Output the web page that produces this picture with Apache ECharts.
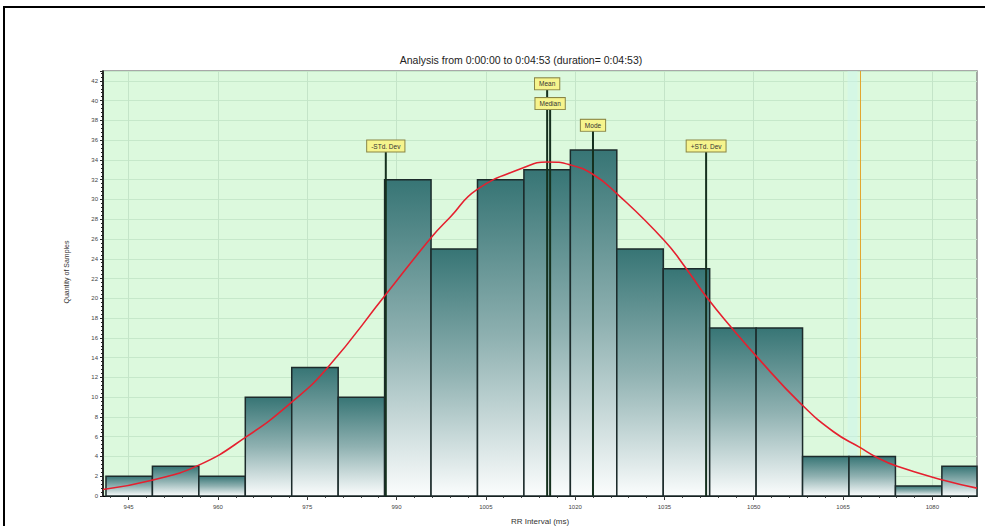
<!DOCTYPE html>
<html>
<head>
<meta charset="utf-8">
<script src="https://cdn.jsdelivr.net/npm/echarts@6/dist/echarts.min.js"></script>
<style>
html, body { margin: 0; padding: 0; background: #fff; }
#main { width: 985px; height: 526px; }
</style>
</head>
<body>
<div id="main"></div>
<script>
// histogram of RR intervals
var binStart = 941.2;   // ms, lower edge of first bin
var binWidth = 7.8;     // ms
var binCounts = [2, 3, 2, 10, 13, 10, 32, 25, 32, 33, 35, 25, 23, 17, 17, 4, 4, 1, 3];

// fitted curve
var curveX = [940.7, 948.9, 956.7, 964.8, 972.4, 978.3, 988.1, 995.9, 999.0, 1003.5, 1011.3, 1015.3,
              1019.2, 1023.1, 1027.0, 1034.9, 1038.8, 1042.1, 1046.6, 1050.5, 1057.8, 1063.4, 1067.9,
              1070.7, 1074.1, 1081.9, 1087.5];
var curveY = [0.65, 1.6, 3.1, 6.0, 9.5, 12.9, 20.3, 26.2, 28.2, 31.0, 33.2, 33.8,
              33.5, 32.5, 30.6, 25.9, 22.9, 20.1, 16.8, 14.1, 9.4, 6.5, 4.9,
              3.9, 3.0, 1.6, 0.8];

// statistic markers
var markerNames = ['-STd. Dev', 'Mean', 'Median', 'Mode', '+STd. Dev'];
var markerValues = [988.2, 1015.3, 1015.8, 1023.0, 1042.0];
var markerTops = [35.4, 41.7, 39.7, 37.5, 35.4];
var cursorValue = 1067.8;

// axis ticks
var xMin = 940.7, xMax = 1087.5;
var xTicks = [945, 960, 975, 990, 1005, 1020, 1035, 1050, 1065, 1080];
var yMax = 43;

var xMinorTicks = [];
for (var t = 942; t < xMax; t += 3) xMinorTicks.push(t);

var barData = [];
for (var i = 0; i < binCounts.length; i++) {
    barData.push([binStart + i * binWidth, binStart + (i + 1) * binWidth, binCounts[i]]);
}
var curveData = [];
for (var j = 0; j < curveX.length; j++) curveData.push([curveX[j], curveY[j]]);
var markerData = [];
for (var k = 0; k < markerValues.length; k++) markerData.push([markerValues[k], markerTops[k]]);

var font = 'Liberation Sans, Arial, sans-serif';
var myChart = echarts.init(document.getElementById('main'), null, { renderer: 'svg' });

var option = {
    backgroundColor: '#ffffff',
    animation: false,
    textStyle: { fontFamily: font },
    grid: {
        left: 103, right: 8, top: 71, bottom: 30,
        outerBoundsMode: 'none',
        containLabel: false,
        show: true,
        backgroundColor: '#dcf9dd',
        borderColor: '#8c8c8c',
        borderWidth: 1.5
    },
    graphic: [
        { type: 'line', shape: { x1: 3, y1: 7, x2: 985, y2: 7 }, style: { stroke: '#000', lineWidth: 2 } },
        { type: 'line', shape: { x1: 4, y1: 6, x2: 4, y2: 526 }, style: { stroke: '#000', lineWidth: 2 } },
        {
            type: 'text', x: 521, y: 60,
            style: { text: 'Analysis from 0:00:00 to 0:04:53 (duration= 0:04:53)', font: '10.5px ' + font,
                     fill: '#222', align: 'center', verticalAlign: 'middle' }
        },
        {
            type: 'text', x: 66, y: 272, rotation: Math.PI / 2,
            style: { text: 'Quantity of Samples', font: '7px ' + font, fill: '#333',
                     align: 'center', verticalAlign: 'middle' }
        }
    ],
    xAxis: [
        {
            type: 'value',
            min: xMin,
            max: xMax,
            name: 'RR Interval (ms)',
            nameLocation: 'middle',
            nameGap: 21,
            nameTextStyle: { fontSize: 8, color: '#333' },
            axisLine: { show: true, lineStyle: { color: '#000', width: 1 } },
            axisTick: { show: true, length: 4, customValues: xTicks, lineStyle: { color: '#333' } },
            axisLabel: {
                customValues: xTicks, fontSize: 6, color: '#444', margin: 8,
                formatter: function (v) { return String(v); }
            },
            splitLine: { show: true, lineStyle: { color: '#c4e4c8', width: 1 } }
        },
        {
            type: 'value',
            position: 'bottom',
            min: xMin,
            max: xMax,
            axisLine: { show: false },
            axisTick: { show: true, length: 2, customValues: xMinorTicks, lineStyle: { color: '#444' } },
            axisLabel: { show: false },
            splitLine: { show: false }
        }
    ],
    yAxis: {
        type: 'value',
        min: 0,
        max: yMax,
        interval: 2,
        axisLine: { show: true, lineStyle: { color: '#000', width: 1.5 } },
        axisTick: { show: true, length: 3, lineStyle: { color: '#222' } },
        minorTick: { show: true, splitNumber: 5, length: 2, lineStyle: { color: '#222' } },
        axisLabel: {
            fontSize: 6, color: '#444', margin: 5,
            formatter: function (v) { return v % 2 === 0 && v <= 42 ? String(v) : ''; }
        },
        splitLine: { show: true, lineStyle: { color: '#c6e8ca', width: 1 } }
    },
    series: [
        {
            name: 'cursor',
            type: 'custom',
            xAxisIndex: 0,
            data: [[cursorValue]],
            silent: true,
            renderItem: function (params, api) {
                var pb = api.coord([api.value(0), 0]);
                var pt = api.coord([api.value(0), yMax]);
                var x = Math.round(pt[0]) + 0.5;
                return {
                    type: 'group',
                    children: [
                        { type: 'rect', shape: { x: x - 13, y: pt[1], width: 10, height: pb[1] - pt[1] },
                          style: { fill: 'rgba(205,245,240,0.45)' } },
                        { type: 'line', shape: { x1: x, y1: pt[1], x2: x, y2: pb[1] },
                          style: { stroke: '#e2a630', lineWidth: 1 } }
                    ]
                };
            }
        },
        {
            name: 'bins',
            type: 'custom',
            xAxisIndex: 0,
            data: barData,
            renderItem: function (params, api) {
                var p0 = api.coord([api.value(0), api.value(2)]);
                var p1 = api.coord([api.value(1), 0]);
                var shape = echarts.graphic.clipRectByRect(
                    { x: p0[0], y: p0[1], width: p1[0] - p0[0], height: p1[1] - p0[1] },
                    { x: params.coordSys.x, y: params.coordSys.y, width: params.coordSys.width, height: params.coordSys.height }
                );
                if (!shape) return;
                return {
                    type: 'rect',
                    shape: shape,
                    style: {
                        fill: new echarts.graphic.LinearGradient(0, 0, 0, 1, [
                            { offset: 0, color: '#377575' },
                            { offset: 0.5, color: '#8fb1b1' },
                            { offset: 1, color: '#fbfdfd' }
                        ]),
                        stroke: '#1c2b2b',
                        lineWidth: 1.5
                    }
                };
            }
        },
        {
            name: 'markers',
            type: 'custom',
            xAxisIndex: 0,
            data: markerData,
            renderItem: function (params, api) {
                var pt = api.coord([api.value(0), api.value(1)]);
                var pb = api.coord([api.value(0), 0]);
                return {
                    type: 'group',
                    children: [
                        { type: 'line', shape: { x1: pt[0], y1: pt[1], x2: pb[0], y2: pb[1] },
                          style: { stroke: '#15301e', lineWidth: 2 } },
                        { type: 'text', x: pt[0], y: pt[1],
                          style: { text: markerNames[params.dataIndex], font: '6.5px ' + font, fill: '#333',
                                   align: 'center', verticalAlign: 'middle',
                                   backgroundColor: '#f6f48d', borderColor: '#8a8645', borderWidth: 1,
                                   padding: [2, 4] } }
                    ]
                };
            }
        },
        {
            name: 'fit',
            type: 'line',
            xAxisIndex: 0,
            data: curveData,
            smooth: true,
            symbol: 'none',
            lineStyle: { color: '#e5202f', width: 1.6 }
        }
    ]
};

myChart.setOption(option);
</script>
</body>
</html>
